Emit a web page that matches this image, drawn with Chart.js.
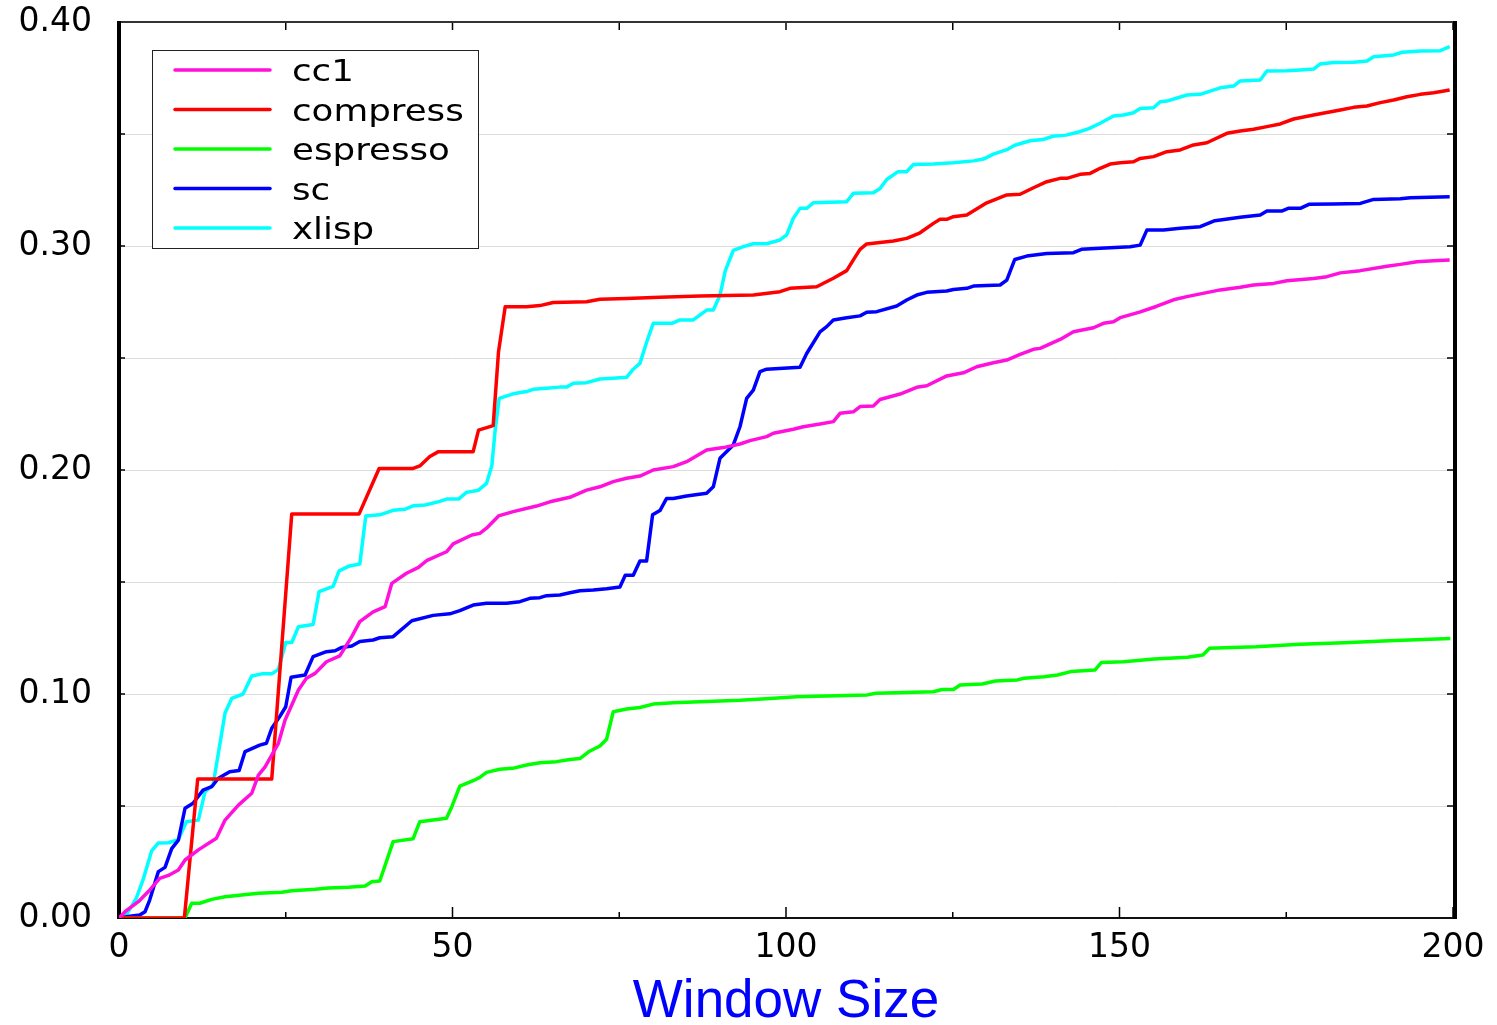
<!DOCTYPE html>
<html>
<head>
<meta charset="utf-8">
<title>Window Size</title>
<script src="https://cdn.jsdelivr.net/npm/chart.js@4.4.1/dist/chart.umd.min.js"></script>
<style>
  html, body { margin: 0; padding: 0; background: #fff; }
  #wrap { width: 1497px; height: 1025px; }
</style>
</head>
<body>
<div id="wrap"><canvas id="chart" width="1497" height="1025"></canvas></div>
<script>
// === DATA (window size, value) ===
var CC1 = [[0,0],[0.9,0.0028],[2.9,0.0073],[4.4,0.0118],[6.1,0.0177],[7.4,0.019],[8.9,0.0214],[9.9,0.0259],[11.9,0.0304],[14.6,0.0356],[15.9,0.0437],[17.9,0.0504],[19.9,0.0557],[20.9,0.0638],[21.9,0.0675],[23.9,0.078],[24.9,0.0884],[26.9,0.1018],[28.1,0.107],[29.4,0.1092],[31.1,0.1144],[33.1,0.117],[34.9,0.1256],[36.1,0.1323],[38.1,0.1367],[39.9,0.139],[40.9,0.1494],[43.1,0.1539],[44.9,0.1565],[46.1,0.1595],[49.1,0.1635],[50.1,0.167],[52.9,0.171],[54.1,0.1717],[55.1,0.174],[56.9,0.1795],[59.1,0.1814],[62.6,0.1839],[64.6,0.1858],[67.6,0.1878],[70.1,0.191],[72.1,0.1925],[74.1,0.1948],[76.1,0.1963],[78.1,0.1973],[80.1,0.2],[83.1,0.2015],[85.1,0.2037],[88.1,0.2089],[90.6,0.21],[93.1,0.2116],[94.6,0.2131],[97.1,0.2149],[98.1,0.2164],[101.1,0.2182],[102.6,0.2193],[105.1,0.2205],[107.1,0.2216],[108.1,0.2253],[110.1,0.226],[111.1,0.2283],[113.1,0.2286],[114.1,0.2315],[117.1,0.2339],[119.6,0.2369],[121.1,0.2376],[124.1,0.242],[126.6,0.2434],[128.6,0.2461],[131.1,0.2479],[133.1,0.2491],[135.1,0.2516],[137.1,0.2539],[138.1,0.2543],[141.1,0.2583],[143.1,0.2617],[146.1,0.2635],[147.6,0.2655],[149.1,0.2662],[150.1,0.268],[153,0.2705],[155.5,0.273],[158.1,0.276],[160.1,0.2774],[165.1,0.2804],[168.1,0.2816],[170.1,0.2826],[173.1,0.2833],[175.1,0.2845],[179.1,0.2855],[181.1,0.2863],[183.1,0.288],[186.1,0.289],[190.1,0.291],[192.1,0.2918],[194.6,0.293],[197.1,0.2934],[199.5,0.2937]];

var COMPRESS = [[0,0],[9.8,0],[11.8,0.062],[22.9,0.062],[25.9,0.1804],[36,0.1804],[39,0.2007],[44.1,0.2007],[45.1,0.2018],[46.6,0.206],[47.9,0.2082],[53.1,0.2082],[53.9,0.2178],[56.1,0.2198],[56.9,0.2528],[57.9,0.2729],[61.1,0.2729],[63.1,0.2734],[65.1,0.2748],[70.1,0.2751],[72.1,0.2762],[76.1,0.2766],[81.1,0.2771],[87.1,0.2777],[95.1,0.2781],[99.1,0.2796],[100.6,0.2811],[104.6,0.2818],[107.1,0.2856],[109.1,0.289],[110.1,0.2938],[111.1,0.2985],[112.1,0.3009],[116.1,0.3022],[118.1,0.3034],[120.1,0.3059],[122.1,0.3101],[123.1,0.3119],[124.1,0.3119],[125.1,0.3131],[127.1,0.3138],[130.1,0.3193],[133.1,0.3228],[135.1,0.3231],[137.1,0.326],[139.1,0.3287],[141.1,0.3302],[142.1,0.3302],[144.1,0.332],[145.6,0.3324],[147.1,0.3347],[148.6,0.3366],[150.1,0.3372],[152.1,0.3376],[153.1,0.3391],[155.1,0.3399],[157.1,0.3421],[159.1,0.3429],[161.1,0.3451],[163.1,0.3461],[166.1,0.3503],[168.1,0.3513],[170.1,0.3521],[172.1,0.3533],[174.1,0.3545],[176.1,0.3567],[179.1,0.3585],[183.1,0.3607],[185.1,0.3619],[187.1,0.3625],[189.1,0.364],[191.1,0.3652],[193.1,0.3666],[195.1,0.3677],[197.1,0.3684],[199.5,0.3696]];

var ESPRESSO = [[0,0],[9.9,0],[10.9,0.0066],[12.1,0.0066],[13.9,0.0083],[15.9,0.0095],[18.4,0.0103],[20.9,0.011],[24.4,0.0115],[25.9,0.0122],[29.4,0.0128],[31.4,0.0134],[34.4,0.0137],[36.9,0.0143],[37.9,0.0162],[39.1,0.0165],[41.1,0.0341],[44.1,0.0354],[45.1,0.043],[49.1,0.0445],[49.9,0.0497],[51.1,0.0589],[53.1,0.0613],[54.1,0.0628],[55.1,0.065],[57.1,0.0664],[59,0.0668],[61.1,0.0683],[63.1,0.0693],[65.6,0.0698],[67.6,0.0708],[69.1,0.0712],[70.4,0.0742],[72.1,0.0768],[73.1,0.0798],[74.1,0.0921],[76.1,0.0933],[78.1,0.094],[80.1,0.0955],[83.1,0.0961],[88.1,0.0967],[93.1,0.0972],[97.6,0.098],[101.6,0.0988],[112.2,0.0996],[113.5,0.1003],[122.1,0.101],[123.4,0.102],[125.1,0.102],[126.1,0.104],[129.4,0.1045],[131.4,0.1058],[134.7,0.1063],[135.7,0.107],[138.7,0.1077],[140.7,0.1085],[142.7,0.11],[146.3,0.1107],[147.3,0.1141],[150.6,0.1144],[155.2,0.1156],[160.2,0.1164],[162.5,0.1174],[163.5,0.1204],[170.5,0.1211],[177.1,0.1222],[183.7,0.1229],[190.4,0.1238],[199.6,0.1248]];

var SC = [[0,0],[1.9,0.0009],[3.1,0.0013],[3.9,0.0028],[4.6,0.008],[5.9,0.0207],[6.9,0.0226],[7.9,0.031],[8.9,0.0348],[9.9,0.049],[11.1,0.0512],[12.6,0.0571],[13.9,0.0586],[14.9,0.0624],[16.6,0.0653],[18,0.0658],[18.9,0.0743],[21.1,0.0772],[22.1,0.078],[22.9,0.0847],[24.1,0.0899],[25,0.0943],[25.8,0.1075],[27.9,0.1085],[29.1,0.1167],[31.1,0.1189],[32.4,0.1193],[33.4,0.1208],[34.9,0.1214],[36.1,0.1234],[38.1,0.1241],[39.1,0.1251],[41.1,0.1256],[43.9,0.1327],[47.1,0.1351],[49.6,0.1358],[51.1,0.1372],[53.1,0.1397],[55.1,0.1405],[58.1,0.1405],[60.1,0.1412],[61.6,0.1427],[63.1,0.143],[64.1,0.1439],[66.1,0.1442],[67.6,0.1452],[69.1,0.1461],[71.1,0.1464],[73.1,0.147],[75.1,0.1478],[75.9,0.153],[77.1,0.153],[78.1,0.1594],[79.1,0.1594],[80,0.18],[81.1,0.1819],[82.1,0.1873],[83.1,0.1873],[85.1,0.1884],[88.1,0.1896],[89.1,0.1925],[90.1,0.2052],[92.1,0.2112],[93.1,0.2193],[94.1,0.232],[95.1,0.2357],[96.1,0.2439],[97.1,0.245],[102.1,0.2459],[103.1,0.252],[105.1,0.2617],[106.1,0.264],[107.1,0.267],[109.1,0.268],[111.1,0.2688],[112.1,0.2704],[113.6,0.2707],[116.6,0.2732],[118.1,0.2759],[119.6,0.2781],[121.1,0.2793],[124.1,0.2799],[125.1,0.2806],[127.1,0.2811],[128.1,0.2821],[132.1,0.2826],[133.1,0.2848],[134.3,0.294],[136.1,0.2955],[139.1,0.2967],[143.1,0.297],[144.3,0.2985],[147.1,0.299],[151.6,0.2997],[153.1,0.3004],[154.1,0.3071],[156.6,0.3071],[159.1,0.3079],[162.1,0.3086],[164.3,0.3113],[168.1,0.3128],[171.1,0.3138],[172.1,0.3156],[174.3,0.3156],[175.3,0.3168],[177.1,0.3168],[178.4,0.3186],[182.1,0.3188],[186.1,0.319],[188.1,0.3208],[192.1,0.3211],[193.6,0.3215],[199.5,0.322]];

var XLISP = [[0,0],[1,0.0008],[2.6,0.0089],[3.6,0.017],[4.9,0.03],[5.9,0.0335],[7.4,0.0336],[8.9,0.035],[10.1,0.043],[11.9,0.0437],[12.9,0.0564],[14.1,0.0594],[14.9,0.0736],[15.9,0.0915],[16.9,0.098],[18.6,0.1],[19.9,0.108],[21.4,0.109],[22.9,0.109],[23.9,0.111],[25,0.123],[25.9,0.123],[26.9,0.13],[29.1,0.131],[30,0.1457],[32.1,0.148],[33,0.155],[34.4,0.157],[36.1,0.158],[37,0.1795],[39.1,0.18],[41.1,0.182],[42.9,0.1825],[44.1,0.184],[45.9,0.1844],[48.1,0.186],[49.1,0.187],[50.9,0.187],[52.1,0.19],[53.9,0.191],[55.1,0.194],[55.9,0.202],[56.4,0.218],[57,0.232],[59.1,0.234],[61.1,0.235],[62.1,0.236],[64.1,0.2365],[66.1,0.237],[67.1,0.237],[68.1,0.2387],[70.1,0.239],[72.1,0.2406],[74.1,0.241],[76.1,0.2414],[77.1,0.245],[78.1,0.2476],[79.1,0.257],[80.1,0.2655],[82.9,0.2655],[84.1,0.267],[86.1,0.267],[88.1,0.2714],[89.1,0.2714],[90.1,0.278],[90.9,0.289],[92.1,0.298],[93.6,0.2997],[95.1,0.301],[97.1,0.301],[99.1,0.3027],[100.1,0.305],[101.1,0.3124],[102.1,0.3168],[103.1,0.3168],[104.1,0.3193],[109.1,0.3198],[110.1,0.3235],[113.1,0.3238],[114.1,0.3257],[115.1,0.3297],[116.8,0.3332],[118.1,0.3332],[119.1,0.3364],[122.1,0.3366],[125.1,0.3372],[128.1,0.338],[129.6,0.3388],[131.1,0.341],[133.1,0.343],[134.3,0.345],[136.6,0.347],[138.5,0.3475],[140,0.349],[142,0.3495],[144,0.351],[145.5,0.3525],[147.1,0.3548],[149.1,0.358],[150.6,0.3585],[152.1,0.3595],[153.1,0.3614],[155.1,0.3617],[156.1,0.3644],[157.1,0.3647],[160.1,0.3674],[162.1,0.3677],[165.1,0.3706],[167.1,0.3714],[168.1,0.3737],[171.1,0.3741],[172.1,0.3781],[175.1,0.3782],[177.1,0.3786],[179.1,0.379],[180.1,0.3813],[182.1,0.3819],[185.1,0.382],[187.1,0.3826],[188.1,0.3845],[191.1,0.3853],[192.4,0.3865],[195.1,0.387],[198.1,0.3872],[199.5,0.389]];

var SERIES_NAMES  = ['cc1', 'compress', 'espresso', 'sc', 'xlisp'];
var SERIES_COLORS = ['#ff10dc', '#ff0000', '#00ff00', '#0000ff', '#00ffff'];

var X_TICKS  = [0, 25, 50, 75, 100, 125, 150, 175, 200];
var X_LABELS = ['0', '', '50', '', '100', '', '150', '', '200'];
var Y_TICKS  = [0, 0.05, 0.10, 0.15, 0.20, 0.25, 0.30, 0.35, 0.40];
var Y_LABELS = ['0.00', '', '0.10', '', '0.20', '', '0.30', '', '0.40'];

(function () {
  'use strict';

  var TICK_FONT = { family: 'DejaVu Sans', size: 33 };

  function toPoints(rows) {
    return rows.map(function (r) { return { x: r[0], y: r[1] }; });
  }

  function line(ctx, x1, y1, x2, y2) {
    ctx.beginPath();
    ctx.moveTo(x1, y1);
    ctx.lineTo(x2, y2);
    ctx.stroke();
  }

  // frame + inward tick marks, drawn under the series
  var framePlugin = {
    id: 'frame',
    beforeDatasetsDraw: function (chart) {
      var a   = chart.chartArea;
      var ctx = chart.ctx;
      var xs  = chart.scales.x;
      var ys  = chart.scales.y;
      ctx.save();
      ctx.strokeStyle = '#000';
      ctx.lineWidth = 1.5;
      xs.ticks.forEach(function (t) {
        var px = xs.getPixelForValue(t.value);
        line(ctx, px, a.bottom, px, a.bottom - (t.value % 50 === 0 ? 11 : 6));
        line(ctx, px, a.top, px, a.top + 8);
      });
      ys.ticks.forEach(function (t) {
        var py = ys.getPixelForValue(t.value);
        line(ctx, a.left, py, a.left + 6, py);
        line(ctx, a.right, py, a.right - 6, py);
      });
      ctx.lineWidth = 2;
      ctx.strokeStyle = '#333';
      line(ctx, a.left, a.top, a.right, a.top);
      ctx.strokeStyle = '#111';
      line(ctx, a.left, a.bottom, a.right, a.bottom);
      ctx.lineWidth = 4;
      ctx.strokeStyle = '#000';
      line(ctx, a.left, a.top - 1, a.left, a.bottom + 1);
      line(ctx, a.right + 2, a.top - 1, a.right + 2, a.bottom + 1);
      ctx.restore();
    }
  };

  // boxed legend in the upper-left corner of the plot
  var legendBoxPlugin = {
    id: 'legendBox',
    afterDraw: function (chart) {
      var a    = chart.chartArea;
      var ctx  = chart.ctx;
      var left = a.left + 33;
      var top  = a.top + 28;
      ctx.save();
      ctx.fillStyle = '#fff';
      ctx.fillRect(left, top, 326, 198);
      ctx.strokeStyle = '#222';
      ctx.lineWidth = 1;
      ctx.strokeRect(left + 0.5, top + 0.5, 326, 198);
      chart.data.datasets.forEach(function (ds, i) {
        var y = top + 20 + i * 39.5;
        ctx.strokeStyle = ds.borderColor;
        ctx.lineWidth = 3.5;
        ctx.lineCap = 'round';
        line(ctx, left + 23, y, left + 118, y);
        ctx.fillStyle = '#000';
        ctx.font = '31px "DejaVu Sans"';
        ctx.textBaseline = 'alphabetic';
        ctx.save();
        ctx.translate(left + 140, y + 11);
        ctx.scale(1.15, 1);
        ctx.fillText(ds.label, 0, 0);
        ctx.restore();
      });
      ctx.restore();
    }
  };

  var seriesRows = [CC1, COMPRESS, ESPRESSO, SC, XLISP];

  var ctx = document.getElementById('chart').getContext('2d');
  new Chart(ctx, {
    type: 'line',
    data: {
      datasets: seriesRows.map(function (rows, i) {
        return {
          label:       SERIES_NAMES[i],
          data:        toPoints(rows),
          borderColor: SERIES_COLORS[i],
          borderWidth: 3.5,
          pointRadius: 0,
          tension:     0,
          fill:        false,
          borderJoinStyle: 'round'
        };
      })
    },
    options: {
      responsive:       false,
      animation:        false,
      devicePixelRatio: 1,
      layout: { padding: { left: 0, right: 44, top: 22, bottom: 0 } },
      plugins: {
        legend:  { display: false },
        tooltip: { enabled: false }
      },
      scales: {
        x: {
          type: 'linear',
          min:  0,
          max:  200,
          afterBuildTicks: function (s) { s.ticks = X_TICKS.map(function (v) { return { value: v }; }); },
          afterFit: function (s) { s.height = 107; s.paddingLeft = 0; s.paddingRight = 0; },
          grid:   { display: false, drawTicks: false },
          border: { display: false },
          ticks: {
            autoSkip:    false,
            maxRotation: 0,
            padding:     11,
            color:       '#000',
            font:        TICK_FONT,
            callback:    function (v, i) { return X_LABELS[i]; }
          },
          title: {
            display: true,
            text:    'Window Size',
            color:   '#0000ff',
            font:    { family: 'Liberation Sans', size: 53, lineHeight: 0.86 },
            padding: { top: 0, bottom: 0 }
          }
        },
        y: {
          min: 0,
          max: 0.4,
          afterBuildTicks: function (s) { s.ticks = Y_TICKS.map(function (v) { return { value: v }; }); },
          afterFit: function (s) { s.width = 119; s.paddingTop = 0; s.paddingBottom = 0; },
          grid:   { color: '#dcdcdc', lineWidth: 1, drawTicks: false },
          border: { display: false },
          ticks: {
            autoSkip: false,
            padding:  27,
            color:    '#000',
            font:     TICK_FONT,
            callback: function (v, i) { return Y_LABELS[i]; }
          }
        }
      }
    },
    plugins: [framePlugin, legendBoxPlugin]
  });
}());
</script>
</body>
</html>
